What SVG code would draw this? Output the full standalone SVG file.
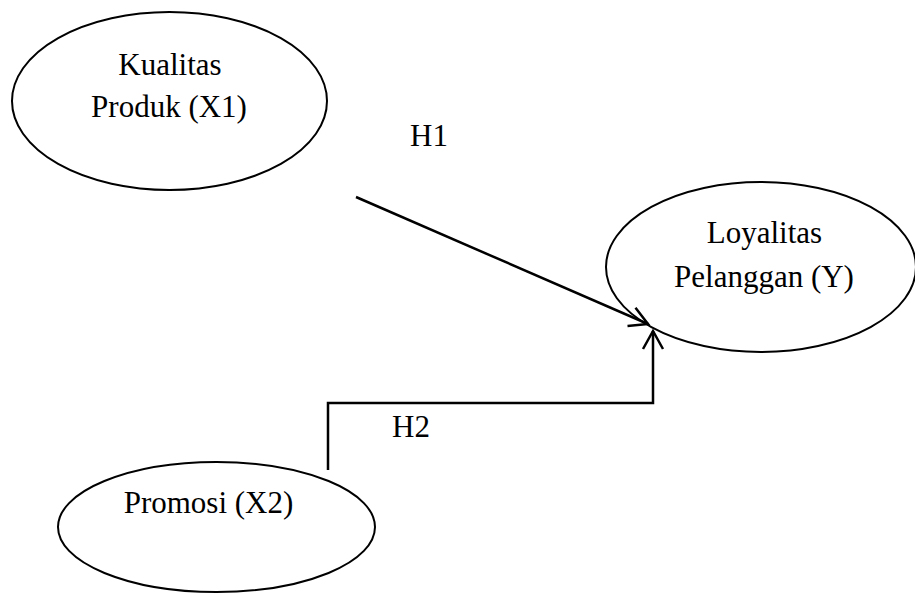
<svg xmlns="http://www.w3.org/2000/svg" width="915" height="595" viewBox="0 0 915 595">
<style>
.node ellipse{fill:#fff;stroke:#000;stroke-width:2}
text{font-family:"Liberation Serif","Times New Roman",serif;font-size:31px;fill:#000}
.conn{fill:none;stroke:#000;stroke-width:2.5}
</style>
<defs>
<marker id="arr" markerUnits="userSpaceOnUse" markerWidth="30" markerHeight="30" viewBox="-20 -15 30 30" refX="0" refY="0" orient="auto">
<path d="M-18,-10 L0,0 L-18,10" fill="none" stroke="#000" stroke-width="2.5"/>
</marker>
</defs>
<rect width="915" height="595" fill="#fff"/>
<g id="x1" class="node">
<ellipse cx="169.5" cy="101" rx="157.5" ry="89"/>
<text x="170" y="75" text-anchor="middle">Kualitas</text>
<text x="169" y="117" text-anchor="middle">Produk (X1)</text>
</g>
<g id="y" class="node">
<ellipse cx="761" cy="267" rx="155" ry="85"/>
<text x="764.5" y="243" text-anchor="middle">Loyalitas</text>
<text x="764" y="287" text-anchor="middle">Pelanggan (Y)</text>
</g>
<g id="x2" class="node">
<ellipse cx="216.5" cy="527" rx="158.5" ry="65"/>
<text x="208.5" y="513" text-anchor="middle">Promosi (X2)</text>
</g>
<g id="connectors">
<path class="conn" d="M356,197 L648,324" marker-end="url(#arr)"/>
<path class="conn" d="M328,470 L328,403 L653,403 L653,331" marker-end="url(#arr)"/>
<text x="410" y="146">H1</text>
<text x="392" y="437">H2</text>
</g>
</svg>
